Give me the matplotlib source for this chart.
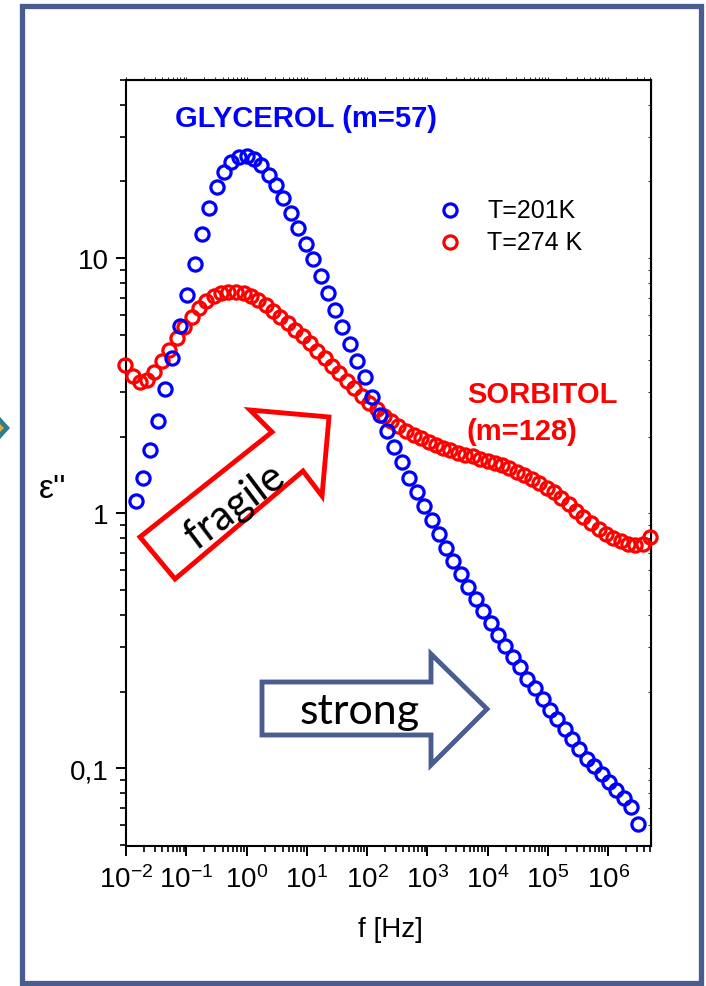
import matplotlib
matplotlib.use('Agg')
import matplotlib.pyplot as plt
import numpy as np
from matplotlib.patches import Polygon, Rectangle
from matplotlib.ticker import FixedLocator, NullFormatter

plt.rcParams['font.family'] = ['Liberation Sans', 'DejaVu Sans']
plt.rcParams['mathtext.fontset'] = 'custom'
plt.rcParams['mathtext.rm'] = 'Liberation Sans'
plt.rcParams['mathtext.it'] = 'Liberation Sans:italic'
plt.rcParams['mathtext.bf'] = 'Liberation Sans:bold'

# glycerol, T=201K  (log10 f, eps'')
glyc_logf = [-1.84, -1.72, -1.60, -1.47, -1.35, -1.23, -1.11, -0.98, -0.86, -0.74,
             -0.62, -0.49, -0.37, -0.25, -0.12, 0.00, 0.12, 0.24, 0.37, 0.49,
             0.61, 0.73, 0.86, 0.98, 1.10, 1.23, 1.35, 1.47, 1.59, 1.72,
             1.84, 1.96, 2.08, 2.21, 2.33, 2.45, 2.58, 2.70, 2.82, 2.94,
             3.07, 3.19, 3.31, 3.43, 3.56, 3.68, 3.80, 3.93, 4.05, 4.17,
             4.29, 4.42, 4.54, 4.66, 4.78, 4.91, 5.03, 5.15, 5.28, 5.40,
             5.52, 5.64, 5.77, 5.89, 6.01, 6.13, 6.26, 6.38, 6.50]
glyc_eps = [1.12, 1.38, 1.77, 2.31, 3.06, 4.05, 5.41, 7.16, 9.47, 12.4,
            15.8, 19.0, 21.7, 23.8, 24.9, 25.1, 24.4, 23.2, 21.3, 19.3,
            17.2, 15.1, 13.2, 11.4, 9.91, 8.50, 7.29, 6.25, 5.36, 4.60,
            3.95, 3.41, 2.85, 2.42, 2.10, 1.82, 1.585, 1.38, 1.214, 1.065,
            0.939, 0.827, 0.732, 0.648, 0.576, 0.515, 0.460, 0.413, 0.370, 0.334,
            0.302, 0.274, 0.249, 0.225, 0.206, 0.187, 0.170, 0.156, 0.142, 0.130,
            0.119, 0.109, 0.102, 0.0947, 0.0881, 0.0820, 0.0763, 0.0703, 0.0603]

# sorbitol, T=274 K
sorb_logf = [-2.02, -1.89, -1.77, -1.65, -1.53, -1.40, -1.28, -1.16, -1.03, -0.91,
             -0.79, -0.67, -0.54, -0.42, -0.30, -0.18, -0.05, 0.07, 0.19, 0.32,
             0.44, 0.56, 0.68, 0.81, 0.93, 1.05, 1.17, 1.30, 1.42, 1.54,
             1.67, 1.79, 1.91, 2.03, 2.16, 2.28, 2.40, 2.52, 2.65, 2.77,
             2.89, 3.02, 3.14, 3.26, 3.38, 3.51, 3.63, 3.75, 3.87, 4.00,
             4.12, 4.24, 4.36, 4.49, 4.61, 4.73, 4.86, 4.98, 5.10, 5.22,
             5.35, 5.47, 5.59, 5.71, 5.84, 5.96, 6.08, 6.21, 6.33, 6.45,
             6.57, 6.70]
sorb_eps = [3.80, 3.45, 3.26, 3.32, 3.57, 3.95, 4.36, 4.85, 5.36, 5.87,
            6.37, 6.78, 7.10, 7.29, 7.39, 7.39, 7.29, 7.10, 6.84, 6.54,
            6.22, 5.90, 5.56, 5.25, 4.94, 4.64, 4.34, 4.05, 3.79, 3.54,
            3.31, 3.09, 2.89, 2.71, 2.56, 2.41, 2.30, 2.19, 2.11, 2.03,
            1.97, 1.91, 1.86, 1.81, 1.77, 1.73, 1.70, 1.67, 1.64, 1.61,
            1.57, 1.54, 1.50, 1.45, 1.41, 1.36, 1.31, 1.26, 1.21, 1.145,
            1.085, 1.02, 0.965, 0.914, 0.866, 0.827, 0.798, 0.776, 0.759, 0.749,
            0.755, 0.805]

xticks = [1e-2, 1e-1, 1e0, 1e1, 1e2, 1e3, 1e4, 1e5, 1e6]
xticklabels = [r'$10^{-2}$', r'$10^{-1}$', r'$10^{0}$', r'$10^{1}$', r'$10^{2}$',
               r'$10^{3}$', r'$10^{4}$', r'$10^{5}$', r'$10^{6}$']
yticks = [0.1, 1, 10]
yticklabels = ['0,1', '1', '10']

BLUE = '#0000ff'
RED = '#ff0000'
FRAME = '#4a5d91'
MS, MEW = 9.5, 2.3

W, H = 706, 987
fig = plt.figure(figsize=(W / 100, H / 100), dpi=100)

# slide frame
bg = fig.add_axes([0, 0, 1, 1])
bg.set_xlim(0, W)
bg.set_ylim(H, 0)
bg.axis('off')
bg.add_patch(Rectangle((21.5, 6.5), 679, 977, fill=False, ec=FRAME, lw=3.8))
bg.add_patch(Polygon([(0, 418), (10, 429), (0, 440)], closed=True, fc='#2f7c8a', ec='none'))
bg.add_patch(Polygon([(0, 425), (4, 429), (0, 433)], closed=True, fc='#e3a73a', ec='none'))

ax = fig.add_axes([126 / W, 1 - 847 / H, 525 / W, 766 / H])
ax.set_xscale('log')
ax.set_yscale('log')
ax.plot(10 ** np.array(sorb_logf), sorb_eps, 'o', mfc='none', mec=RED, ms=MS, mew=MEW,
        clip_on=False, zorder=3)
ax.plot(10 ** np.array(glyc_logf), glyc_eps, 'o', mfc='none', mec=BLUE, ms=MS, mew=MEW,
        clip_on=False, zorder=4)
ax.set_xlim(1e-2, 10 ** 6.71)
ax.set_ylim(0.0496, 50)

minor_x = [m * 10.0 ** e for e in range(-2, 7) for m in range(2, 10)]
minor_y = [m * 10.0 ** e for e in range(-2, 2) for m in range(2, 10)]
ax.xaxis.set_major_locator(FixedLocator(xticks))
ax.xaxis.set_minor_locator(FixedLocator(minor_x))
ax.set_xticklabels(xticklabels)
ax.xaxis.set_minor_formatter(NullFormatter())
ax.yaxis.set_major_locator(FixedLocator(yticks))
ax.yaxis.set_minor_locator(FixedLocator(minor_y))
ax.set_yticklabels(yticklabels)
ax.yaxis.set_minor_formatter(NullFormatter())

ax.tick_params(which='major', direction='out', length=7.5, width=1.4, labelsize=20, pad=5)
ax.tick_params(which='minor', direction='out', length=4, width=1.2)
ax.tick_params(axis='x', which='major', pad=6)
# faint ticks on the top and right spines
ax.secondary_xaxis('top').tick_params(which='both', direction='out', length=2, width=0.6,
                                      labeltop=False)
sy = ax.secondary_yaxis('right')
sy.tick_params(which='both', direction='in', length=2, width=0.6, labelright=False)
for s in ax.spines.values():
    s.set_linewidth(1.5)

# text and arrows drawn in pixel coordinates
ov = fig.add_axes([0, 0, 1, 1], zorder=10)
ov.set_xlim(0, W)
ov.set_ylim(H, 0)
ov.axis('off')
ov.patch.set_alpha(0)

ov.text(175, 119, 'GLYCEROL (m=57)', color=BLUE, fontweight='bold', fontsize=21,
        va='center', ha='left')
ov.text(467, 395, 'SORBITOL', color=RED, fontweight='bold', fontsize=21,
        va='center', ha='left')
ov.text(467, 432, '(m=128)', color=RED, fontweight='bold', fontsize=21,
        va='center', ha='left')

ov.plot([450], [211], 'o', mfc='none', mec=BLUE, ms=MS, mew=MEW)
ov.plot([450], [243], 'o', mfc='none', mec=RED, ms=MS, mew=MEW)
ov.text(487, 211, 'T=201K', fontsize=18, va='center', ha='left')
ov.text(487, 243, 'T=274 K', fontsize=18, va='center', ha='left')

ov.text(53, 490, "ε''", fontsize=24, va='center', ha='center')
ov.text(390, 930, 'f [Hz]', fontsize=20, va='center', ha='center')

fragile = [(140, 538), (175, 580), (303, 472), (322, 497), (329, 418), (250, 411), (272, 433)]
ov.add_patch(Polygon(fragile, closed=True, fill=False, ec=RED, lw=3.5, joinstyle='miter'))
ov.text(235, 507, 'fragile', fontsize=30, rotation=37, rotation_mode='anchor',
        ha='center', va='center', family=['Lato', 'DejaVu Sans'])

strong = [(262, 683), (431, 683), (431, 655), (487, 710), (431, 766), (431, 736), (262, 736)]
ov.add_patch(Polygon(strong, closed=True, fill=False, ec=FRAME, lw=3.5, joinstyle='miter'))
ov.text(360, 712, 'strong', fontsize=31, ha='center', va='center',
        family=['Lato', 'DejaVu Sans'])

fig.savefig('out.png', dpi=100)
